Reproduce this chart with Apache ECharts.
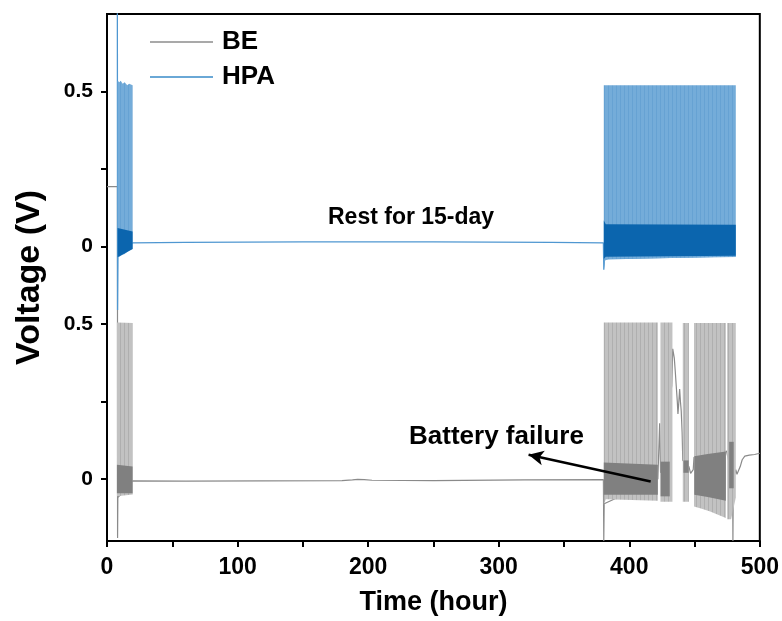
<!DOCTYPE html>
<html>
<head>
<meta charset="utf-8">
<script src="https://cdn.jsdelivr.net/npm/echarts@6/dist/echarts.min.js"></script>
<style>
  html, body { margin: 0; padding: 0; background: #ffffff; }
  #chart { width: 782px; height: 621px; }
</style>
</head>
<body>
<div id="chart"></div>
<script>
// ---- Data -----------------------------------------------------------------
// Time axis (hour)
const timeRange = [0, 500];
const timeTickStep = 50;      // every tick; labels on every 100 h
const timeLabelStep = 100;

// Voltage ticks shown for each trace (V)
const voltLabels = [0, 0.5];
const voltTicks = [0, 0.25, 0.5];

// Vertical shift of the HPA trace above the BE trace (V)
const HPA_OFFSET = 0.75;
const voltRange = [-0.2, 1.5];

// HPA: continuous trace [time h, voltage V]
const hpaTrace = [
  [7.9, 0.95], [8.1, -0.205], [8.4, -0.03], [19.6, 0.012],
  [60, 0.013], [150, 0.015], [250, 0.015], [340, 0.013], [380.2, 0.012],
  [380.5, -0.075], [381, -0.04], [481.6, -0.03]
];
// HPA cycling envelope blocks: [time, peak V, floor V]
const hpaCycleEnvelope = [
  [[8.1, 0.535, -0.035], [9.5, 0.53, -0.033], [10.5, 0.535, -0.03], [12, 0.525, -0.027],
   [13.5, 0.53, -0.024], [15.5, 0.52, -0.018], [17, 0.525, -0.014], [19.6, 0.52, -0.008]],
  [[380.5, 0.52, -0.075], [381.5, 0.52, -0.045], [384, 0.52, -0.04], [481.6, 0.52, -0.034]]
];
// HPA dense inner band: [time, upper V, lower V]
const hpaInnerBand = [
  [[8.1, 0.06, -0.035], [19.6, 0.048, -0.008]],
  [[380.5, 0.084, -0.04], [382, 0.072, -0.033], [481.6, 0.07, -0.03]]
];

// BE: continuous trace [time h, voltage V]
const beTrace = [
  [0, 0.943], [8.0, 0.943], [8.1, -0.19], [8.3, -0.06], [19.6, -0.006],
  [60, -0.007], [120, -0.006], [180, -0.005], [188, -0.003], [192, -0.001],
  [197, -0.002], [203, -0.004], [250, -0.005], [320, -0.003], [380.2, -0.002],
  [380.5, -0.2], [380.8, -0.08], [421.9, 0.0], [423.3, 0.18], [424, 0.02],
  [432.5, 0.3], [433.3, 0.42], [434.5, 0.39], [435.2, 0.35], [436, 0.3],
  [436.8, 0.25], [437.3, 0.21], [438, 0.25], [438.6, 0.29], [439.2, 0.25],
  [439.8, 0.22], [440.5, 0.15], [441, 0.06], [445.7, 0.04], [446.2, 0.035],
  [447, 0.018], [448, 0.015], [449, 0.03], [449.6, 0.07], [474.5, 0.09],
  [479.2, 0.0], [479.4, -0.2], [479.7, 0.0], [481.6, 0.03], [482.5, 0.015],
  [483.5, 0.018], [485, 0.04], [486.5, 0.062], [488.5, 0.074], [492, 0.077],
  [496, 0.079], [500, 0.083]
];
// BE cycling envelope blocks: [time, peak V, floor V]
const beCycleEnvelope = [
  [[7.6, 0.505, -0.056], [19.6, 0.503, -0.05]],
  [[380.5, 0.505, -0.083], [382, 0.505, -0.065], [421.9, 0.505, -0.07]],
  [[424, 0.505, -0.073], [433, 0.505, -0.073]],
  [[441, 0.503, -0.073], [445.7, 0.503, -0.073]],
  [[449.6, 0.503, -0.089], [455, 0.503, -0.095], [462, 0.503, -0.105],
   [468, 0.503, -0.115], [474, 0.503, -0.126]],
  [[475, 0.503, -0.13], [478, 0.503, -0.13], [481.6, 0.503, -0.06]]
];
// BE dense inner band: [time, upper V, lower V]
const beInnerBand = [
  [[7.6, 0.046, -0.046], [19.6, 0.04, -0.046]],
  [[380.5, 0.053, -0.051], [421.9, 0.046, -0.051]],
  [[424, 0.056, -0.056], [431, 0.056, -0.056]],
  [[441.5, 0.06, 0.02], [445.5, 0.06, 0.02]],
  [[449.8, 0.073, -0.051], [460, 0.081, -0.058], [474, 0.089, -0.07]],
  [[476.5, 0.12, -0.03], [480, 0.12, -0.03]]
];

// Annotation arrow [time, voltage] on the BE trace
const failureArrow = { from: [416.4, -0.008], to: [322.9, 0.078] };

// ---- Styling helpers -------------------------------------------------------
const FONT = '"Liberation Sans", Arial, Helvetica, sans-serif';

function stripePattern(base, line, period) {
  const c = document.createElement('canvas');
  c.width = period; c.height = 8;
  const g = c.getContext('2d');
  g.fillStyle = base; g.fillRect(0, 0, period, 8);
  g.fillStyle = line; g.fillRect(0, 0, 1, 8);
  return { type: 'pattern', image: c, repeat: 'repeat' };
}

function shift(points, off) {
  return points.map(p => [p[0], p[1] + off]);
}

function bandSeries(name, blocks, off, fill, z) {
  return {
    type: 'custom',
    name: name,
    z: z,
    silent: true,
    animation: false,
    data: blocks.map((b, i) => [b[0][0], i]),
    renderItem: function (params, api) {
      const b = blocks[params.dataIndex];
      const top = b.map(p => api.coord([p[0], p[1] + off]));
      const bottom = b.slice().reverse().map(p => api.coord([p[0], p[2] + off]));
      return {
        type: 'polygon',
        shape: { points: top.concat(bottom) },
        style: { fill: fill, stroke: null }
      };
    }
  };
}

const yTickValues = voltTicks.concat(voltTicks.map(v => v + HPA_OFFSET));
const yLabelValues = voltLabels.concat(voltLabels.map(v => v + HPA_OFFSET));

const chart = echarts.init(document.getElementById('chart'), null, { renderer: 'canvas' });

const option = {
  animation: false,
  backgroundColor: '#ffffff',
  grid: {
    left: 107, right: 22, top: 14, bottom: 80,
    show: true, borderColor: '#000', borderWidth: 2, backgroundColor: 'transparent'
  },
  legend: {
    left: 150, top: 29, orient: 'vertical', padding: 0,
    icon: 'rect', itemWidth: 63, itemHeight: 2, itemGap: 9,
    selectedMode: false,
    textStyle: { fontFamily: FONT, fontWeight: 'bold', fontSize: 26, color: '#000',
                 lineHeight: 26, padding: [0, 0, 0, 4] },
    data: [
      { name: 'BE', itemStyle: { color: '#a9a9a9' } },
      { name: 'HPA', itemStyle: { color: '#6aa8d6' } }
    ]
  },
  xAxis: {
    type: 'value', min: timeRange[0], max: timeRange[1], interval: timeTickStep,
    name: 'Time (hour)', nameLocation: 'middle', nameGap: 48,
    nameTextStyle: { fontFamily: FONT, fontWeight: 'bold', fontSize: 27, color: '#000' },
    axisLine: { show: true, onZero: false, lineStyle: { color: '#000', width: 2 } },
    axisTick: { show: true, inside: false, length: 6, lineStyle: { color: '#000', width: 2 } },
    axisLabel: {
      margin: 15, fontFamily: FONT, fontWeight: 'bold', fontSize: 23, color: '#000',
      formatter: v => (v % timeLabelStep === 0 ? String(v) : '')
    },
    splitLine: { show: false }
  },
  yAxis: {
    type: 'value', min: voltRange[0], max: voltRange[1],
    name: 'Voltage (V)', nameLocation: 'middle', nameGap: 60, nameRotate: 90,
    nameTextStyle: { fontFamily: FONT, fontWeight: 'bold', fontSize: 34, color: '#000' },
    axisLine: { show: true, onZero: false, lineStyle: { color: '#000', width: 2 } },
    axisTick: { show: true, inside: false, length: 6, customValues: yTickValues,
                lineStyle: { color: '#000', width: 2 } },
    axisLabel: {
      margin: 14, fontFamily: FONT, fontWeight: 'bold', fontSize: 21, color: '#000',
      customValues: yLabelValues,
      formatter: v => {
        const r = v >= HPA_OFFSET - 1e-9 ? v - HPA_OFFSET : v;
        return String(Math.round(r * 100) / 100);
      }
    },
    splitLine: { show: false }
  },
  graphic: [
    { type: 'text', left: 328, top: 206, silent: true,
      style: { text: 'Rest for 15-day', fontFamily: FONT, fontWeight: 'bold', fontSize: 23, fill: '#000' } },
    { type: 'text', left: 409, top: 424, silent: true,
      style: { text: 'Battery failure', fontFamily: FONT, fontWeight: 'bold', fontSize: 26, fill: '#000' } }
  ],
  series: [
    {
      type: 'line', name: 'BE', z: 1, data: beTrace, showSymbol: false, silent: true,
      lineStyle: { color: '#8a8a8a', width: 1.2 }, itemStyle: { color: '#a9a9a9' },
      markLine: {
        silent: true, symbol: ['none', 'arrow'], symbolSize: [11, 15],
        label: { show: false },
        lineStyle: { color: '#000', width: 2.6, type: 'solid' },
        data: [[{ coord: failureArrow.from }, { coord: failureArrow.to }]]
      }
    },
    bandSeries('BE', beCycleEnvelope, 0, stripePattern('#c2c2c2', '#afafaf', 4), 2),
    bandSeries('BE', beInnerBand, 0, '#808080', 3),
    {
      type: 'line', name: 'HPA', z: 4, data: shift(hpaTrace, HPA_OFFSET), showSymbol: false, silent: true,
      lineStyle: { color: '#4f97d1', width: 1.3 }, itemStyle: { color: '#6aa8d6' }
    },
    bandSeries('HPA', hpaCycleEnvelope, HPA_OFFSET, stripePattern('#74acd9', '#66a2d3', 4), 5),
    bandSeries('HPA', hpaInnerBand, HPA_OFFSET, '#0b65ae', 6)
  ]
};

chart.setOption(option);
</script>
</body>
</html>
